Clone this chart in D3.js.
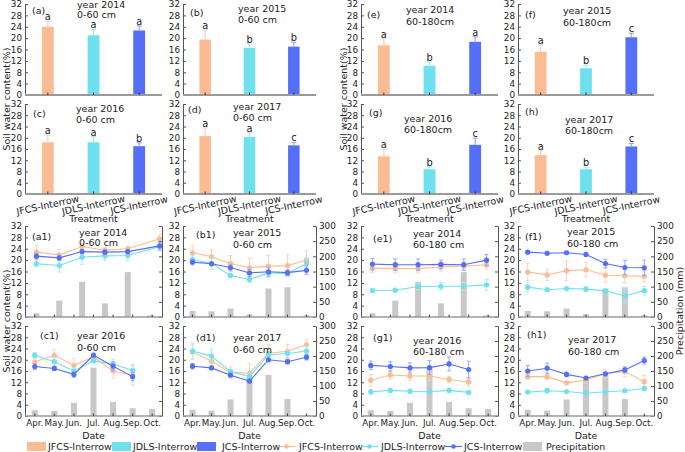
<!DOCTYPE html>
<html><head><meta charset="utf-8">
<script src="https://cdn.jsdelivr.net/npm/d3@7"></script>
<style>
body{margin:0;background:#fff}
text{font-family:"DejaVu Sans",sans-serif;fill:#222}
</style></head>
<body><svg id="chart" width="685" height="452"></svg>
<script>
// ---------------- DATA ----------------
const treatments = ["JFCS-Interrow","JDLS-Interrow","JCS-Interrow"];
const months = ["Apr.","May.","Jun.","Jul.","Aug.","Sep.","Oct."];
const swcTicks = [0,4,8,12,16,20,24,28,32];
const precipTicks = [0,50,100,150,200,250,300];

// bar panels (a)..(h)
const barPanelIds = ["(a)","(b)","(c)","(d)","(e)","(f)","(g)","(h)"];
const barYears = ["year 2014","year 2015","year 2016","year 2017","year 2014","year 2015","year 2016","year 2017"];
const barDepths = ["0-60 cm","0-60 cm","0-60 cm","0-60 cm","60-180cm","60-180cm","60-180cm","60-180cm"];
const barMeans = [
  [24.0,21.0,22.7],[19.5,16.6,17.0],[18.4,18.4,17.0],[20.6,20.3,17.3],
  [17.5,10.3,18.7],[15.2,9.4,20.3],[13.4,8.8,17.5],[13.8,8.8,16.9]];
const barSD = [
  [1.8,2.0,1.6],[3.3,1.4,1.5],[2.4,1.9,1.2],[2.9,1.5,1.0],
  [2.3,1.3,1.8],[2.3,1.1,1.4],[2.4,0.9,2.3],[1.5,0.7,1.1]];
const barLetters = [
  ["a","a","a"],["a","b","b"],["a","a","b"],["a","a","c"],
  ["a","b","a"],["a","b","c"],["a","b","c"],["a","b","c"]];

// line panels (a1)..(h1)
const linePanelIds = ["(a1)","(b1)","(c1)","(d1)","(e1)","(f1)","(g1)","(h1)"];
const lineYears = [2014,2015,2016,2017,2014,2015,2016,2017];
const lineDepths = ["0-60 cm","0-60 cm","0-60 cm","0-60 cm","60-180 cm","60-180 cm","60-180 cm","60-180 cm"];
// sampling slot of each point in the 2014 panels (6 slots); 0-60 cm last sample drawn later
const slots2014Top = [0,1,2,3,4,5.4];
const slots2014Deep = [0,1,2,3,4,5];
const swcJFCS = [
  [22.8,21.8,24.8,23.5,24.0,27.5],
  [22.6,21.2,18.8,17.3,17.9,18.1,20.0],
  [19.2,21.6,18.0,21.0,16.0,14.5],
  [22.8,19.5,15.5,15.2,22.3,23.0,25.3],
  [17.1,17.1,17.0,17.6,17.9,18.4],
  [15.8,14.8,16.3,16.6,14.7,14.5,14.3],
  [12.7,14.6,14.2,14.2,13.0,12.1],
  [14.0,14.0,11.8,12.8,15.0,15.8,12.2]];
const sdJFCS = [
  [2.5,2.0,1.0,0.8,0.8,1.5],
  [2.5,2.5,2.8,3.3,3.7,3.8,3.3],
  [1.5,2.0,2.5,1.0,2.5,3.5],
  [2.5,1.5,2.0,3.5,3.0,2.5,2.0],
  [1.5,1.5,1.5,1.5,1.5,1.5],
  [3.0,2.0,3.5,2.5,2.5,2.5,2.0],
  [2.0,1.5,1.5,1.5,1.0,1.5],
  [1.0,1.0,0.5,1.0,1.5,1.8,2.2]];
const swcJDLS = [
  [18.7,18.1,21.0,21.5,21.6,24.8],
  [20.2,18.8,14.6,13.2,15.5,15.3,18.8],
  [21.6,19.3,16.0,19.6,18.5,16.2],
  [23.1,21.3,15.8,14.0,21.8,22.2,23.1],
  [9.3,9.4,10.7,10.8,10.8,11.3],
  [10.5,9.6,10.0,9.8,9.2,7.4,9.3],
  [8.6,9.1,8.8,8.6,9.1,8.4],
  [8.5,9.0,8.7,8.1,8.6,9.0,9.8]];
const sdJDLS = [
  [1.0,2.3,2.5,1.5,1.8,1.5],
  [1.5,2.0,0.8,1.0,1.5,1.0,2.0],
  [1.0,1.5,1.0,0.5,1.5,2.0],
  [2.8,2.5,0.8,1.0,1.0,1.5,2.0],
  [0.5,0.8,1.0,1.3,1.3,2.0],
  [1.5,0.3,0.5,0.8,0.5,2.5,1.5],
  [0.8,0.7,0.8,0.5,0.8,0.3],
  [0.4,0.8,0.4,0.3,0.5,0.4,0.5]];
const swcJCS = [
  [21.4,20.8,23.0,22.8,23.0,25.0],
  [19.3,18.7,17.4,15.5,15.9,15.6,16.4],
  [17.6,16.9,14.8,21.6,17.7,14.0],
  [17.7,17.1,14.5,12.4,20.0,19.3,20.9],
  [18.6,18.4,18.4,18.5,18.4,20.0],
  [22.8,22.4,22.6,22.0,18.8,17.4,17.3],
  [18.0,17.6,17.1,17.2,18.5,16.5],
  [16.0,17.0,14.8,13.5,15.0,16.4,19.7]];
const sdJCS = [
  [1.0,1.0,0.8,0.8,0.8,1.5],
  [1.0,0.5,1.0,1.3,1.5,1.0,1.5],
  [1.0,0.7,1.0,0.8,1.5,1.5],
  [1.0,0.5,0.5,0.5,0.5,0.8,1.0],
  [2.0,2.0,2.0,1.5,2.0,2.0],
  [0.5,0.5,0.5,0.3,1.5,2.5,2.7],
  [1.5,1.7,1.8,2.5,2.5,3.0],
  [2.0,1.8,0.8,0.5,0.5,1.0,1.2]];
const precip2014 = [12,54,116,45,148,6];
const precip2015 = [20,19,28,9,94,98,6];
const precip2016 = [19,17,44,161,47,26,23];
const precip2017 = [21,18,55,130,137,57,3];

// ---------------- STYLE / LAYOUT ----------------
const colors = ["#FDBB94","#6EE0EE","#5470F8"];
const lightColors = ["#FDD3BA","#A6EBF4","#98A9FA"];
const precipColor = "#C8C8C8";
const FS = 8.8;
const TFS = 9.5;
const cols = [[25,162],[183,316],[361,498],[518,654]];
const rowsTop = [[4,95],[104,194]];
const rowsBot = [[226,317],[326,416]];
const barGrid = [[0,0],[1,0],[0,1],[1,1],[2,0],[3,0],[2,1],[3,1]];
// text offsets [labDx,labDy,yrDx,yrDy,depDy]
const barTxt = [[7,7,52,0.5,10.8],[7,9,55,5,16],[8,10,51,5,16],[5,6,50,3,14],
                [6,11,45,6,18],[7,11,45,7,19],[8,9,43,15,26],[7,8,47,16,27]];
const lineTxt = [[7,11,54,7,17],[13,9,50,7,19],[15,10,52,10,22],[13,12,50,12,24],
                 [12,13,52,8,19],[7,11,49,6,18],[12,12,52,15,26],[9,9,50,14,26]];

const svg = d3.select("#chart");
const axisColor = "#555";
const baseColor = "#9a9a9a";

function txt(g, x, y, s, opts={}) {
  return g.append("text").attr("x",x).attr("y",y).attr("dy","0.35em")
    .attr("font-size", opts.fs || FS).attr("text-anchor", opts.anchor || "start").text(s);
}
function styleAxis(sel) {
  sel.selectAll("text").attr("font-size",FS).attr("font-family","DejaVu Sans").attr("fill","#222");
  sel.selectAll("line").attr("stroke",axisColor);
  sel.select(".domain").attr("stroke",axisColor);
}

// ---------- bar panels ----------
barGrid.forEach(([c,r], i) => {
  const [x0,x1] = cols[c], [y0,y1] = rowsTop[r];
  const g = svg.append("g");
  const x = d3.scaleBand().domain(treatments).range([x0,x1]).paddingInner(0.74).paddingOuter(0.37);
  const y = d3.scaleLinear().domain([0,32]).range([y1,y0]);

  const ax = g.append("g").attr("transform",`translate(${x0},0)`)
    .call(d3.axisLeft(y).tickValues(swcTicks).tickSizeInner(-3).tickSizeOuter(0).tickPadding(3));
  styleAxis(ax);

  g.selectAll("rect.bar").data(treatments).join("rect")
    .attr("x", d => x(d)).attr("width", x.bandwidth())
    .attr("y", (d,j) => y(barMeans[i][j])).attr("height", (d,j) => y1 - y(barMeans[i][j]))
    .attr("fill", (d,j) => colors[j]);
  treatments.forEach((t,j) => {
    const cx = x(t) + x.bandwidth()/2;
    const top = y(barMeans[i][j] + barSD[i][j]);
    g.append("line").attr("x1",cx).attr("x2",cx).attr("y1",y(barMeans[i][j])).attr("y2",top)
      .attr("stroke",lightColors[j]).attr("stroke-width",1.2);
    g.append("line").attr("x1",cx-2.5).attr("x2",cx+2.5).attr("y1",top).attr("y2",top)
      .attr("stroke",lightColors[j]).attr("stroke-width",1.2);
    txt(g, cx, top - 4.6, barLetters[i][j], {anchor:"middle", fs:9.8});
  });
  g.append("line").attr("x1",x0).attr("x2",x1).attr("y1",y1).attr("y2",y1)
    .attr("stroke",baseColor).attr("stroke-width",2);
  treatments.forEach(t => {
    const cx = x(t) + x.bandwidth()/2;
    g.append("line").attr("x1",cx).attr("x2",cx).attr("y1",y1).attr("y2",y1-2.5).attr("stroke","#333");
  });
  if (r === 1) {
    treatments.forEach(t => {
      const cx = x(t) + x.bandwidth()/2;
      g.append("text").attr("transform",`translate(${cx},${y1+11}) rotate(-12)`)
        .attr("text-anchor","middle").attr("dy","0.35em").attr("font-size",TFS).text(t);
    });
    txt(g, (x0+x1)/2, 218.5, "Treatment", {anchor:"middle", fs:TFS});
  }
  const o = barTxt[i];
  txt(g, x0+o[0], y0+o[1], barPanelIds[i], {fs:TFS});
  txt(g, x0+o[2], y0+o[3], barYears[i], {fs:TFS});
  txt(g, x0+o[2], y0+o[4], barDepths[i], {fs:TFS});
});

// ---------- line panels ----------
const precipByYear = {2014:precip2014,2015:precip2015,2016:precip2016,2017:precip2017};
const swcSets = [swcJFCS, swcJDLS, swcJCS];
const sdSets = [sdJFCS, sdJDLS, sdJCS];

barGrid.forEach(([c,r], i) => {
  const [x0,x1] = cols[c], [y0,y1] = rowsBot[r];
  const g = svg.append("g");
  const xm = d3.scalePoint().domain(months).range([x0,x1]).padding(0.5);
  const pr = precipByYear[lineYears[i]];
  const xd = d3.scalePoint().domain(d3.range(pr.length)).range([x0,x1]).padding(0.5);
  const xSlot = d3.scaleLinear().domain([0,1]).range([xd(0), xd(1)]);
  const y = d3.scaleLinear().domain([0,32]).range([y1,y0]);
  const y2 = d3.scaleLinear().domain([0,300]).range([y1,y0]);
  const slots = lineYears[i] === 2014 ? (c === 0 ? slots2014Top : slots2014Deep) : null;

  g.selectAll("rect.p").data(pr).join("rect")
    .attr("x",(d,k)=>xd(k)-3).attr("width",6)
    .attr("y",d=>y2(d)).attr("height",d=>y1-y2(d)).attr("fill",precipColor);

  swcSets.forEach((set, j) => {
    const vals = set[i], sds = sdSets[j][i];
    const xs = k => slots ? xSlot(slots[k]) : xm(months[k]);
    vals.forEach((v,k) => {
      const cx = xs(k);
      g.append("line").attr("x1",cx).attr("x2",cx).attr("y1",y(v-sds[k])).attr("y2",y(v+sds[k]))
        .attr("stroke",lightColors[j]).attr("stroke-width",1);
      [v-sds[k], v+sds[k]].forEach(e => g.append("line").attr("x1",cx-2).attr("x2",cx+2)
        .attr("y1",y(e)).attr("y2",y(e)).attr("stroke",lightColors[j]).attr("stroke-width",1));
    });
    const line = d3.line().x((d,k)=>xs(k)).y(d=>y(d));
    g.append("path").datum(vals).attr("d",line).attr("fill","none")
      .attr("stroke",colors[j]).attr("stroke-width",1.1);
    g.selectAll(null).data(vals).join("circle")
      .attr("cx",(d,k)=>xs(k)).attr("cy",d=>y(d)).attr("r",2.6).attr("fill",colors[j]);
  });

  const ax = g.append("g").attr("transform",`translate(${x0},0)`)
    .call(d3.axisLeft(y).tickValues(swcTicks).tickSizeInner(-3).tickSizeOuter(0).tickPadding(3));
  styleAxis(ax);
  const ar = g.append("g").attr("transform",`translate(${x1},0)`)
    .call(d3.axisRight(y2).tickValues(precipTicks).tickSizeInner(-3).tickSizeOuter(0).tickPadding(3)
      .tickFormat(c % 2 === 1 ? d3.format("d") : () => ""));
  styleAxis(ar);
  g.append("line").attr("x1",x0).attr("x2",x1).attr("y1",y1).attr("y2",y1)
    .attr("stroke",baseColor).attr("stroke-width",1.6);
  months.forEach(m => g.append("line").attr("x1",xm(m)).attr("x2",xm(m)).attr("y1",y1).attr("y2",y1-2.5).attr("stroke","#444"));
  if (r === 1) {
    months.forEach(m => txt(g, xm(m), 422.5, m, {anchor:"middle", fs:8.7}));
    txt(g, (x0+x1)/2, 435.5, "Date", {anchor:"middle", fs:TFS});
  }
  const o = lineTxt[i];
  txt(g, x0+o[0], y0+o[1], linePanelIds[i], {fs:TFS});
  txt(g, x0+o[2], y0+o[3], "year " + lineYears[i], {fs:TFS});
  txt(g, x0+o[2], y0+o[4], lineDepths[i], {fs:TFS});
});

function vtitle(x, y, s) {
  svg.append("text").attr("transform",`translate(${x},${y}) rotate(-90)`)
    .attr("text-anchor","middle").attr("dy","0.35em").attr("font-size",TFS).text(s);
}
vtitle(7, 99, "Soil water content(%)");
vtitle(344, 99, "Soil water content(%)");
vtitle(7, 321, "Soil water content(%)");
vtitle(680, 311, "Precipitation (mm)");

const lg = svg.append("g");
const ly = 446.5;
const legendRects = [[27,0],[112,1],[197,2]];
const legendRectText = [48,133,222];
legendRects.forEach(([lx,j],k) => {
  lg.append("rect").attr("x",lx).attr("y",ly-4.5).attr("width",19).attr("height",9).attr("fill",colors[j]);
  txt(lg, legendRectText[k], ly, treatments[j], {fs:TFS});
});
const legendLines = [278,361,445];
const legendLineText = [299,381,464];
legendLines.forEach((lx,j) => {
  lg.append("line").attr("x1",lx).attr("x2",lx+17).attr("y1",ly).attr("y2",ly).attr("stroke",colors[j]).attr("stroke-width",1.1);
  lg.append("circle").attr("cx",lx+8.5).attr("cy",ly).attr("r",2.3).attr("fill",colors[j]);
  txt(lg, legendLineText[j], ly, treatments[j], {fs:TFS});
});
lg.append("rect").attr("x",523).attr("y",ly-4.5).attr("width",19).attr("height",9).attr("fill",precipColor);
txt(lg, 546, ly, "Precipitation", {fs:TFS});
</script></body></html>
